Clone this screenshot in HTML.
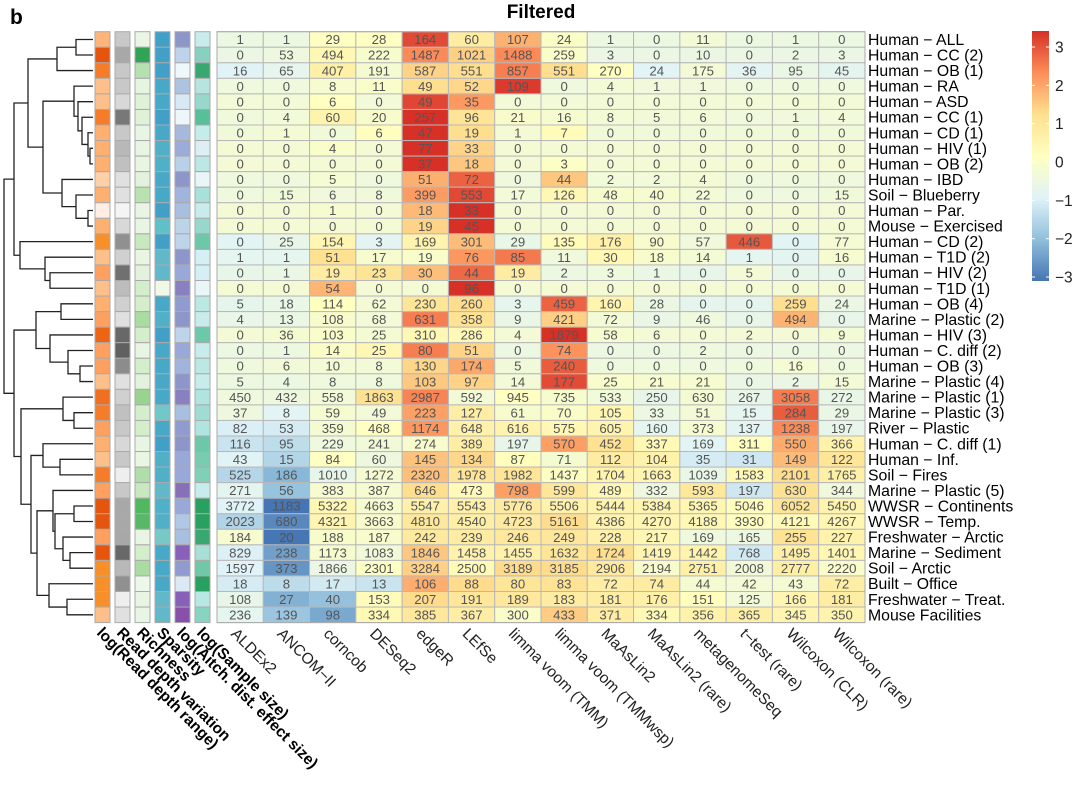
<!DOCTYPE html>
<html><head><meta charset="utf-8"><title>Filtered heatmap</title>
<style>
html,body{margin:0;padding:0;background:#fff;}
svg{display:block;font-family:"Liberation Sans",Arial,sans-serif;}
</style></head>
<body>
<svg id="chart" width="1080" height="785" viewBox="0 0 1080 785">
<text x="10" y="24" font-size="21" font-weight="bold">b</text>
<text x="541" y="18" font-size="19" font-weight="bold" text-anchor="middle">Filtered</text>
<g id="dendro"></g>
<g id="annot"></g>
<g id="cells"></g>
<g id="rowlabels"></g>
<g id="collabels"></g>
<g id="legend"></g>
</svg>
<script>
const methods = ["ALDEx2","ANCOM−II","corncob","DESeq2","edgeR","LEfSe","limma voom (TMM)","limma voom (TMMwsp)","MaAsLin2","MaAsLin2 (rare)","metagenomeSeq","t−test (rare)","Wilcoxon (CLR)","Wilcoxon (rare)"];
const datasets = ["Human − ALL","Human − CC (2)","Human − OB (1)","Human − RA","Human − ASD","Human − CC (1)","Human − CD (1)","Human − HIV (1)","Human − OB (2)","Human − IBD","Soil − Blueberry","Human − Par.","Mouse − Exercised","Human − CD (2)","Human − T1D (2)","Human − HIV (2)","Human − T1D (1)","Human − OB (4)","Marine − Plastic (2)","Human − HIV (3)","Human − C. diff (2)","Human − OB (3)","Marine − Plastic (4)","Marine − Plastic (1)","Marine − Plastic (3)","River − Plastic","Human − C. diff (1)","Human − Inf.","Soil − Fires","Marine − Plastic (5)","WWSR − Continents","WWSR − Temp.","Freshwater − Arctic","Marine − Sediment","Soil − Arctic","Built − Office","Freshwater − Treat.","Mouse Facilities"];
const counts = [
[1,1,29,28,164,60,107,24,1,0,11,0,1,0],
[0,53,494,222,1487,1021,1488,259,3,0,10,0,2,3],
[16,65,407,191,587,551,857,551,270,24,175,36,95,45],
[0,0,8,11,49,52,109,0,4,1,1,0,0,0],
[0,0,6,0,49,35,0,0,0,0,0,0,0,0],
[0,4,60,20,257,96,21,16,8,5,6,0,1,4],
[0,1,0,6,47,19,1,7,0,0,0,0,0,0],
[0,0,4,0,77,33,0,0,0,0,0,0,0,0],
[0,0,0,0,37,18,0,3,0,0,0,0,0,0],
[0,0,5,0,51,72,0,44,2,2,4,0,0,0],
[0,15,6,8,399,553,17,126,48,40,22,0,0,15],
[0,0,1,0,18,33,0,0,0,0,0,0,0,0],
[0,0,0,0,19,45,0,0,0,0,0,0,0,0],
[0,25,154,3,169,301,29,135,176,90,57,446,0,77],
[1,1,51,17,19,76,85,11,30,18,14,1,0,16],
[0,1,19,23,30,44,19,2,3,1,0,5,0,0],
[0,0,54,0,0,96,0,0,0,0,0,0,0,0],
[5,18,114,62,230,260,3,459,160,28,0,0,259,24],
[4,13,108,68,631,358,9,421,72,9,46,0,494,0],
[0,36,103,25,310,286,4,1879,58,6,0,2,0,9],
[0,1,14,25,80,51,0,74,0,0,2,0,0,0],
[0,6,10,8,130,174,5,240,0,0,0,0,16,0],
[5,4,8,8,103,97,14,177,25,21,21,0,2,15],
[450,432,558,1863,2987,592,945,735,533,250,630,267,3058,272],
[37,8,59,49,223,127,61,70,105,33,51,15,284,29],
[82,53,359,468,1174,648,616,575,605,160,373,137,1238,197],
[116,95,229,241,274,389,197,570,452,337,169,311,550,366],
[43,15,84,60,145,134,87,71,112,104,35,31,149,122],
[525,186,1010,1272,2320,1978,1982,1437,1704,1663,1039,1583,2101,1765],
[271,56,383,387,646,473,798,599,489,332,593,197,630,344],
[3772,1183,5322,4663,5547,5543,5776,5506,5444,5384,5365,5046,6052,5450],
[2023,680,4321,3663,4810,4540,4723,5161,4386,4270,4188,3930,4121,4267],
[184,20,188,187,242,239,246,249,228,217,169,165,255,227],
[829,238,1173,1083,1846,1458,1455,1632,1724,1419,1442,768,1495,1401],
[1597,373,1866,2301,3284,2500,3189,3185,2906,2194,2751,2008,2777,2220],
[18,8,17,13,106,88,80,83,72,74,44,42,43,72],
[108,27,40,153,207,191,189,183,181,176,151,125,166,181],
[236,139,98,334,385,367,300,433,371,334,356,365,345,350]
];
const annotNames = ["log(Read depth range)","Read depth variation","Richness","Sparsity","log(Aitch. dist. effect size)","log(Sample size)"];
const annotColors = [
["#fdb57a","#c8c8c8","#eaf5e4","#40a0c8","#8c96c8","#c8ecec"],
["#e6550d","#a8a8a8","#31a354","#42a0c8","#bed3ea","#88d0c0"],
["#f57d2a","#c8c8c8","#b5e0b0","#42a0c8","#eef8fb","#38a870"],
["#fdc08a","#c8c8c8","#e6f5e0","#48a8c8","#acc4e0","#b8e4e0"],
["#fdc08a","#d8d8d8","#dff2d8","#48a8c8","#d8e8f4","#98d8cc"],
["#f57d2a","#787878","#dff2d8","#42a0c8","#eef6fa","#58c098"],
["#fdb070","#c8c8c8","#e8f5e2","#48a8c8","#a6b8dc","#c4ecea"],
["#fdb070","#b8b8b8","#e8f5e2","#50b0c8","#9cacd8","#dcf0f4"],
["#fdb070","#c0c0c0","#e8f5e2","#50b0c8","#b8d0e8","#bce8e4"],
["#fdd0a8","#e0e0e0","#e2f2dc","#48a8c8","#8c96c8","#e8f6f8"],
["#fdb070","#e0e0e0","#b8e2b0","#48a8c8","#a0b4dc","#a8e0dc"],
["#feeee4","#f4f4f4","#e8f5e2","#42a0c8","#a8bfe0","#c8ecec"],
["#fdb070","#d8d8d8","#e8f5e2","#60c0c8","#bcd4e8","#98d8cc"],
["#f8902a","#909090","#c8e8c0","#42a0c8","#bed4ea","#6cc8a8"],
["#fdc08a","#d0d0d0","#e8f5e2","#60b8c8","#8c96c8","#d4f0f4"],
["#fda060","#707070","#e2f2dc","#60b8c8","#98a8d8","#d4f0f4"],
["#fdc08a","#bcbcbc","#d4eecc","#f0f8e8","#8880c0","#eaf6f8"],
["#fdb070","#d0d0d0","#d4eecc","#48a8c8","#909cd0","#bce8e4"],
["#fda060","#e0e0e0","#a8dca0","#50b0c8","#8c96c8","#c8ecec"],
["#ec6414","#686868","#d4eecc","#42a0c8","#bed4ea","#6cc8a8"],
["#fda060","#606060","#e8f5e2","#48a8c8","#98a8d8","#c8ecec"],
["#fda060","#8c8c8c","#d4eecc","#48a8c8","#a0b4dc","#bce8e4"],
["#fdc08a","#e0e0e0","#e2f2dc","#48a8c8","#8c96c8","#c8ecec"],
["#f07020","#d0d0d0","#98d490","#48a8c8","#8880c0","#b0e4e0"],
["#f57d2a","#c0c0c0","#d4eecc","#70c8c8","#a8bfe0","#a0dcd4"],
["#fda060","#c8c8c8","#d4eecc","#48a8c8","#909cd0","#b0e4e0"],
["#fdb070","#d8d8d8","#e8f5e2","#42a0c8","#8c96c8","#6cc8a8"],
["#fdc08a","#c8c8c8","#eaf5e4","#50b0c8","#98a8d8","#78ccb0"],
["#f57d2a","#eeeeee","#b0deaa","#50b0c8","#98a8d8","#80d0b8"],
["#fda060","#c8c8c8","#c8e8c0","#60b8c8","#8870b8","#c8ecec"],
["#e6550d","#a8a8a8","#50b860","#50b0c8","#98a8d8","#28a060"],
["#e6550d","#a8a8a8","#58b868","#50b0c8","#b0c8e4","#28a060"],
["#fda060","#a8a8a8","#e8f5e2","#78c8c8","#a8bfe0","#38a870"],
["#e6550d","#686868","#d4eecc","#48a8c8","#8860b8","#a8e0d8"],
["#f8902a","#b8b8b8","#a8dca0","#48a8c8","#909cd0","#70c8a8"],
["#f8902a","#909090","#eef8ea","#48a8c8","#dce8f4","#28a060"],
["#f8902a","#eeeeee","#e8f5e2","#60b8c8","#8860b8","#b8e8e4"],
["#fdc08a","#e0e0e0","#e8f5e2","#60b8c8","#8850a8","#88d4c0"]
];
const legendTicks = [3,2,1,0,-1,-2,-3];
// dendrogram: [height-x, left, right]; leaves are row indices
const tree = [4,
  [14,
    [28,[57,[76,0,1],2],[43,[74,3,[78,4,[82,5,[88,6,[90,7,8]]]]],[62,9,[76,10,[88,11,12]]]]],
    [20,13,[45,14,[50,15,16]]]],
  [14,
    [36,[61,17,18],[50,19,[68,20,[80,21,22]]]],
    [21,[63,23,[74,24,25]],
      [31,[43,26,[60,27,28]],
        [37,[53,29,[55,[74,30,31],[63,32,[70,33,34]]]],[49,35,[67,36,37]]]]]]];

const NS="http://www.w3.org/2000/svg";
const X0=217, X1=865, Y0=31.7, RH=15.55;
const CW=(X1-X0)/methods.length;
const xPos=i=>X0+i*CW;
const yPos=r=>Y0+r*RH;
function mk(tag,attrs,parent){const e=document.createElementNS(NS,tag);for(const k in attrs)e.setAttribute(k,attrs[k]);parent.appendChild(e);return e;}
const stops=[[-3,[69,117,180]],[-2,[145,191,219]],[-1,[224,243,248]],[0,[255,255,191]],[1,[254,224,144]],[2,[252,141,89]],[3,[215,48,39]]];
function col(z){z=Math.max(-3,Math.min(3,z));for(let i=0;i<stops.length-1;i++){const a=stops[i],b=stops[i+1];if(z<=b[0]){const t=(z-a[0])/(b[0]-a[0]);const c=a[1].map((v,k)=>Math.round(v+(b[1][k]-v)*t));return `rgb(${c.join(',')})`;}}return 'rgb(215,48,39)';}

const gC=document.getElementById('cells');
counts.forEach((row,r)=>{
  const m=row.reduce((a,b)=>a+b,0)/row.length;
  const sd=Math.sqrt(row.reduce((a,b)=>a+(b-m)*(b-m),0)/(row.length-1))||1;
  row.forEach((v,c)=>{
    const z=(v-m)/sd;
    const rc=mk('rect',{x:xPos(c),y:yPos(r),width:CW,height:RH,fill:col(z),stroke:'#b8b8b8','stroke-width':1},gC);
    
    
    const t=mk('text',{x:xPos(c)+CW/2,y:yPos(r)+RH/2+4.7,'font-size':13.2,'text-anchor':'middle',fill:'#555'},gC);
    t.textContent=v;
    
    
  });
});
mk('rect',{x:X0,y:Y0,width:X1-X0,height:RH*datasets.length,fill:'none',stroke:'#aaa','stroke-width':1},gC);

const gA=document.getElementById('annot');
const ax=[95,115,135,155,175,195];
annotColors.forEach((row,r)=>row.forEach((c,k)=>{
  const rc=mk('rect',{x:ax[k],y:yPos(r),width:15,height:RH,fill:c,stroke:'#aaa','stroke-width':1},gA);
  
  
}));
annotNames.forEach((n,k)=>{
  const x=ax[k]+1, y=yPos(datasets.length)+11;
  const t=mk('text',{x:x,y:y,'font-size':15.5,'font-weight':'bold',transform:`rotate(45 ${x} ${y})`},gA);
  t.textContent=n;
  
  
});

const gR=document.getElementById('rowlabels');
datasets.forEach((d,r)=>{
  const t=mk('text',{x:868,y:yPos(r)+RH/2+5.5,'font-size':15.8},gR);
  t.textContent=d;
  
  
});
const gL=document.getElementById('collabels');
methods.forEach((m,c)=>{
  const x=xPos(c)+CW/2-10, y=yPos(datasets.length)+12;
  const t=mk('text',{x:x,y:y,'font-size':15.5,fill:'#222',transform:`rotate(45 ${x} ${y})`},gL);
  t.textContent=m;
  
  
});

const gD=document.getElementById('dendro');
function draw(n){
  if(typeof n==='number'){return {x:93,y:yPos(n)+RH/2};}
  const a=draw(n[1]),b=draw(n[2]),x=n[0];
  const p=mk('path',{d:`M${a.x},${a.y}H${x}V${b.y}H${b.x}`,fill:'none',stroke:'#222','stroke-width':1.3},gD);
  
  
  return {x:x,y:(a.y+b.y)/2};
}
const root=draw(tree);

const gG=document.getElementById('legend');
const defs=mk('defs',{},gG);
const lg=mk('linearGradient',{id:'lgd',x1:0,y1:1,x2:0,y2:0},defs);
stops.forEach(s=>mk('stop',{offset:(s[0]+3)/6,'stop-color':`rgb(${s[1].join(',')})`},lg));
const LY0=31,LY1=281;
const lb=mk('rect',{x:1032,y:LY0,width:17,height:LY1-LY0,fill:'url(#lgd)'},gG);


const ly=v=>277-(v+3)/6*(277-47);
legendTicks.forEach(v=>{
  mk('line',{x1:1032,x2:1035,y1:ly(v),y2:ly(v),stroke:'#fff'},gG);
  mk('line',{x1:1046,x2:1049,y1:ly(v),y2:ly(v),stroke:'#fff'},gG);
  const t=mk('text',{x:1055,y:ly(v)+5.5,'font-size':15.5,fill:'#222'},gG);
  t.textContent=v<0?'−'+(-v):String(v);
  
  
});
</script>
</body></html>
